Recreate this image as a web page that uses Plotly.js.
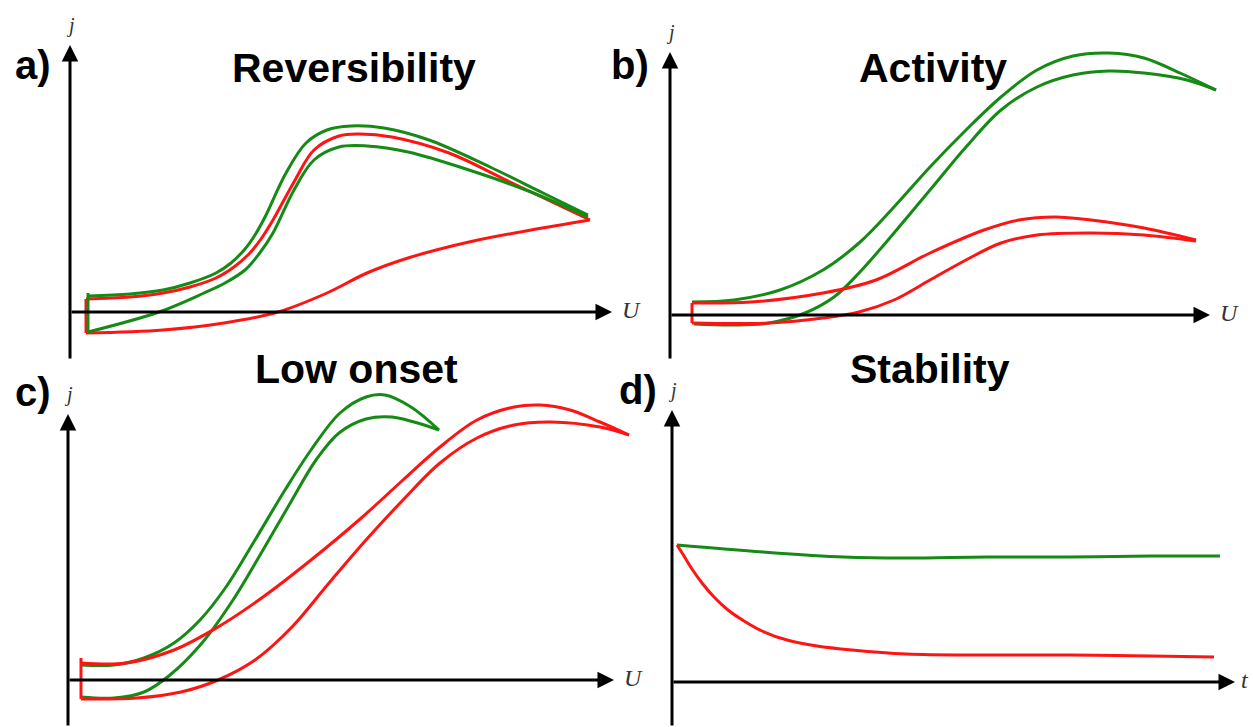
<!DOCTYPE html>
<html>
<head>
<meta charset="utf-8">
<script src="https://cdn.plot.ly/plotly-3.0.1.min.js"></script>
<style>html,body{margin:0;padding:0;background:#fff}#chart{width:1253px;height:727px}</style>
</head>
<body>
<div id="chart"></div>
<script>
// ---------- Panel a) Reversibility ----------
const aGreenFwdU = [0.18,0.60,0.93,1.20,1.46,1.61,1.75,1.85,1.95,2.16,2.36,2.57,2.81,3.14,3.59,4.20,4.73,5.18];
const aGreenFwdJ = [0.16,0.18,0.22,0.29,0.39,0.49,0.63,0.77,0.95,1.39,1.69,1.82,1.86,1.84,1.72,1.45,1.19,0.97];
const aGreenRevU = [5.18,4.61,3.99,3.38,2.97,2.69,2.44,2.24,2.03,1.89,1.75,1.55,1.34,0.89,0.18];
const aGreenRevJ = [0.95,1.20,1.42,1.60,1.66,1.65,1.52,1.22,0.79,0.58,0.42,0.29,0.19,0.00,-0.20];
const aGreenStepU = [0.18,0.18];
const aGreenStepJ = [-0.20,0.19];
const aRedFwdU = [0.16,0.60,0.93,1.20,1.46,1.64,1.79,1.91,2.03,2.24,2.44,2.69,2.89,3.22,3.79,4.40,5.20];
const aRedFwdJ = [0.13,0.15,0.19,0.25,0.34,0.45,0.58,0.73,0.92,1.30,1.62,1.76,1.78,1.75,1.59,1.30,0.92];
const aRedRevU = [5.20,4.61,3.99,3.38,2.97,2.57,2.08,1.54,0.93,0.16];
const aRedRevJ = [0.92,0.82,0.70,0.54,0.39,0.19,0.00,-0.11,-0.18,-0.21];
const aRedStepU = [0.16,0.16];
const aRedStepJ = [-0.21,0.13];

// ---------- Panel b) Activity ----------
const bGreenFwdU = [0.22,0.64,1.10,1.53,1.89,2.24,2.60,2.96,3.31,3.67,4.03,4.39,4.74,5.10,5.46];
const bGreenFwdJ = [0.13,0.15,0.25,0.45,0.72,1.08,1.48,1.85,2.18,2.45,2.59,2.62,2.57,2.42,2.25];
const bGreenRevU = [5.46,5.17,4.74,4.39,4.03,3.67,3.31,2.96,2.60,2.24,1.89,1.64,1.35,0.99,0.64,0.24];
const bGreenRevJ = [2.25,2.35,2.42,2.44,2.40,2.28,2.05,1.68,1.25,0.82,0.42,0.18,0.02,-0.08,-0.10,-0.09];
const bRedFwdU = [0.22,0.81,1.53,2.06,2.60,3.14,3.49,3.85,4.21,4.74,5.26];
const bRedFwdJ = [0.12,0.13,0.22,0.35,0.62,0.85,0.95,0.98,0.95,0.87,0.75];
const bRedRevU = [5.26,4.74,4.21,3.67,3.31,2.96,2.60,2.24,1.89,1.53,0.99,0.22];
const bRedRevJ = [0.74,0.80,0.82,0.80,0.72,0.55,0.35,0.15,0.03,-0.03,-0.08,-0.08];
const bRedStepU = [0.22,0.22];
const bRedStepJ = [-0.08,0.12];

// ---------- Panel c) Low onset ----------
const cGreenFwdU = [0.13,0.46,0.76,1.06,1.32,1.58,1.87,2.17,2.43,2.72,2.98,3.17,3.43,3.71];
const cGreenFwdJ = [0.15,0.15,0.22,0.37,0.60,0.93,1.40,1.90,2.30,2.67,2.83,2.85,2.73,2.50];
const cGreenRevU = [3.71,3.46,3.24,2.98,2.71,2.48,2.24,1.95,1.65,1.34,1.02,0.76,0.46,0.13];
const cGreenRevJ = [2.50,2.58,2.63,2.61,2.47,2.20,1.80,1.30,0.80,0.37,0.05,-0.12,-0.18,-0.17];
const cRedFwdU = [0.13,0.58,1.06,1.50,1.95,2.43,2.91,3.35,3.72,4.09,4.46,4.72,5.02,5.32,5.61];
const cRedFwdJ = [0.17,0.17,0.30,0.53,0.83,1.20,1.60,2.00,2.33,2.60,2.73,2.75,2.70,2.58,2.45];
const cRedRevU = [5.61,5.32,4.83,4.46,4.09,3.72,3.35,2.98,2.61,2.24,1.87,1.50,1.13,0.69,0.13];
const cRedRevJ = [2.45,2.53,2.58,2.55,2.42,2.17,1.80,1.40,0.97,0.53,0.20,0.00,-0.12,-0.18,-0.19];
const cRedStepU = [0.13,0.13];
const cRedStepJ = [-0.19,0.22];

// ---------- Panel d) Stability ----------
const dGreenT = [0.05,0.91,1.72,2.34,3.15,3.97,4.79,5.48];
const dGreenJ = [1.37,1.30,1.25,1.24,1.25,1.25,1.26,1.26];
const dRedT = [0.05,0.12,0.20,0.30,0.42,0.56,0.72,0.90,1.15,1.45,1.80,2.34,3.15,3.97,4.79,5.42];
const dRedJ = [1.37,1.26,1.13,0.99,0.85,0.72,0.61,0.51,0.42,0.36,0.32,0.28,0.27,0.27,0.26,0.25];

// ---------- Text ----------
const panelTitles = ['Reversibility','Activity','Low onset','Stability'];
const panelLetters = ['a)','b)','c)','d)'];
const xAxisLabels = ['U','U','U','t'];
const yAxisLabel = 'j';

const GREEN = '#158a15';
const RED = '#ff1414';
const LW = 3;

function line(x, y, color, ax, shape) {
  return {x: x, y: y, type: 'scatter', mode: 'lines', xaxis: 'x' + ax, yaxis: 'y' + ax,
    line: {color: color, width: LW, shape: shape || 'spline', smoothing: 1},
    hoverinfo: 'skip', showlegend: false};
}
const A = '', B = '2', C = '3', D = '4';
const data = [
  line(aRedFwdU, aRedFwdJ, RED, A), line(aRedRevU, aRedRevJ, RED, A), line(aRedStepU, aRedStepJ, RED, A, 'linear'),
  line(aGreenFwdU, aGreenFwdJ, GREEN, A), line(aGreenRevU, aGreenRevJ, GREEN, A), line(aGreenStepU, aGreenStepJ, GREEN, A, 'linear'),
  line(bGreenFwdU, bGreenFwdJ, GREEN, B), line(bGreenRevU, bGreenRevJ, GREEN, B),
  line(bRedFwdU, bRedFwdJ, RED, B), line(bRedRevU, bRedRevJ, RED, B), line(bRedStepU, bRedStepJ, RED, B, 'linear'),
  line(cGreenFwdU, cGreenFwdJ, GREEN, C), line(cGreenRevU, cGreenRevJ, GREEN, C),
  line(cRedFwdU, cRedFwdJ, RED, C), line(cRedRevU, cRedRevJ, RED, C), line(cRedStepU, cRedStepJ, RED, C, 'linear'),
  line(dGreenT, dGreenJ, GREEN, D), line(dRedT, dRedJ, RED, D)
];

// layout geometry: [left px, right px, top px, bottom px, originX px, originY px]
const W = 1253, H = 727;
const panels = [
  [0, 640, 0, 363, 70, 312],
  [640, 1253, 0, 363, 670, 315],
  [0, 640, 363, 727, 68, 680],
  [640, 1253, 363, 727, 672, 682]
];
// axis extents in data units: [x arrow tip, y bottom, y arrow tip]
const axisExt = [
  [5.42, -0.48, 2.67],
  [5.40, -0.45, 2.63],
  [5.46, -0.47, 2.66],
  [5.63, -0.45, 2.72]
];
const labelGap = [0.08, 0.08, 0.08, 0.04];
const layout = {
  width: W, height: H, margin: {l: 0, r: 0, t: 0, b: 0},
  paper_bgcolor: '#fff', plot_bgcolor: 'rgba(0,0,0,0)',
  showlegend: false, annotations: []
};
const axBase = {showgrid: false, zeroline: false, showticklabels: false, ticks: '', showline: false, fixedrange: true};
panels.forEach((p, i) => {
  const [L, R, T, Bm, ox, oy] = p;
  const s = i === 0 ? '' : String(i + 1);
  layout['xaxis' + s] = Object.assign({}, axBase, {
    domain: [L / W, R / W], range: [(L - ox) / 100, (R - ox) / 100], anchor: 'y' + s});
  layout['yaxis' + s] = Object.assign({}, axBase, {
    domain: [1 - Bm / H, 1 - T / H], range: [(oy - Bm) / 100, (oy - T) / 100], anchor: 'x' + s});
  const xr = 'x' + s, yr = 'y' + s;
  const [xt, yb, yt] = axisExt[i];
  // x axis arrow
  layout.annotations.push({xref: xr, yref: yr, axref: xr, ayref: yr, x: xt, y: 0, ax: 0, ay: 0,
    text: '', showarrow: true, arrowhead: 2, arrowsize: 1.1, arrowwidth: 3, arrowcolor: '#000', standoff: 0});
  // y axis arrow
  layout.annotations.push({xref: xr, yref: yr, axref: xr, ayref: yr, x: 0, y: yt, ax: 0, ay: yb,
    text: '', showarrow: true, arrowhead: 2, arrowsize: 1.1, arrowwidth: 3, arrowcolor: '#000', standoff: 0});
  // axis labels
  layout.annotations.push({xref: xr, yref: yr, x: xt + labelGap[i], y: 0.02, xanchor: 'left', yanchor: 'middle',
    text: '<i>' + xAxisLabels[i] + '</i>', showarrow: false,
    font: {family: 'Liberation Serif, DejaVu Serif, serif', size: 24, color: '#333'}});
  layout.annotations.push({xref: xr, yref: yr, x: 0.0, y: yt + 0.2, xanchor: 'center', yanchor: 'middle',
    text: '<i>' + yAxisLabel + '</i>', showarrow: false,
    font: {family: 'Liberation Serif, DejaVu Serif, serif', size: 20, color: '#333'}});
});
// titles and letters (paper coordinates from pixel positions)
const titlePos = [[354, 68], [933, 68], [356, 369], [930, 369]];
const letterPos = [[33, 65], [630, 65], [33, 392], [638, 390]];
titlePos.forEach((tp, i) => {
  layout.annotations.push({xref: 'paper', yref: 'paper', x: tp[0] / W, y: 1 - tp[1] / H,
    xanchor: 'center', yanchor: 'middle', text: '<b>' + panelTitles[i] + '</b>', showarrow: false,
    font: {family: 'Liberation Sans, Arial, sans-serif', size: 41, color: '#000'}});
  const lp = letterPos[i];
  layout.annotations.push({xref: 'paper', yref: 'paper', x: lp[0] / W, y: 1 - lp[1] / H,
    xanchor: 'center', yanchor: 'middle', text: '<b>' + panelLetters[i] + '</b>', showarrow: false,
    font: {family: 'Liberation Sans, Arial, sans-serif', size: 40, color: '#000'}});
});
Plotly.newPlot('chart', data, layout, {staticPlot: true, displayModeBar: false});
</script>
</body>
</html>
